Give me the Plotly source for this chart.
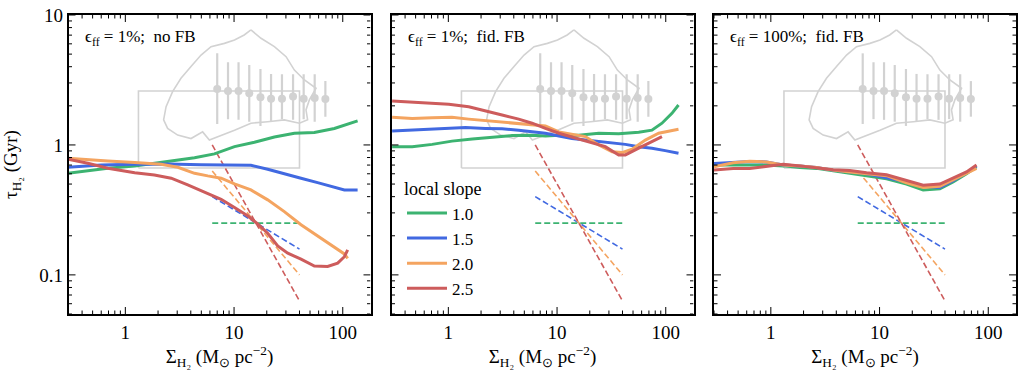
import math
import plotly.graph_objects as go

# ---------------- data ----------------
slopes = ["1.0", "1.5", "2.0", "2.5"]
colors = ["#3cb371", "#4169e1", "#f4a460", "#cd5c5c"]
panel_labels = ["ϵ<sub>ff</sub> = 1%;  no FB", "ϵ<sub>ff</sub> = 1%;  fid. FB", "ϵ<sub>ff</sub> = 100%;  fid. FB"]

# panel 1 (eff = 1%, no FB)
p1_green_x = [0.296, 0.452, 0.69, 1.22, 1.85, 2.83, 4.33, 6.6, 10.1, 15.4, 23.5, 35.9, 54.8, 83.7, 137]
p1_green_y = [0.605, 0.63, 0.662, 0.689, 0.723, 0.757, 0.798, 0.853, 0.97, 1.05, 1.15, 1.23, 1.245, 1.34, 1.53]
p1_blue_x = [0.296, 0.6, 1.22, 2.46, 4.98, 10.1, 14.3, 20.4, 29.0, 41.3, 58.7, 83.7, 103.5, 137]
p1_blue_y = [0.673, 0.702, 0.71, 0.714, 0.705, 0.702, 0.698, 0.65, 0.598, 0.554, 0.513, 0.472, 0.451, 0.451]
p1_orange_x = [0.296, 0.452, 0.69, 1.22, 2.13, 3.04, 4.33, 5.73, 7.6, 10.1, 14.3, 20.4, 29.0, 41.3, 58.7, 83.7, 103.5, 111]
p1_orange_y = [0.79, 0.767, 0.753, 0.731, 0.711, 0.673, 0.605, 0.578, 0.555, 0.501, 0.451, 0.378, 0.307, 0.243, 0.2, 0.165, 0.145, 0.134]
p1_red_x = [0.296, 0.452, 0.69, 1.22, 1.85, 2.64, 3.75, 5.73, 7.6, 10.1, 13.4, 16.5, 20.4, 25.2, 31.2, 41.3, 54.8, 72.6, 89.8, 103.5, 111]
p1_red_y = [0.776, 0.723, 0.662, 0.612, 0.588, 0.555, 0.492, 0.425, 0.382, 0.33, 0.284, 0.247, 0.209, 0.167, 0.147, 0.132, 0.117, 0.116, 0.123, 0.138, 0.156]

# panel 2 (eff = 1%, fid. FB)
p2_green_x = [0.304, 0.465, 0.71, 1.08, 1.66, 2.53, 3.86, 5.89, 7.82, 10.4, 15.8, 24.2, 36.9, 56.4, 74.6, 92.3, 114, 131]
p2_green_y = [0.97, 0.97, 1.01, 1.07, 1.11, 1.15, 1.18, 1.19, 1.17, 1.19, 1.19, 1.23, 1.22, 1.25, 1.30, 1.47, 1.75, 2.03]
p2_blue_x = [0.304, 0.465, 0.71, 1.08, 1.44, 2.19, 3.12, 4.44, 5.89, 7.82, 10.4, 13.7, 18.2, 24.2, 32.1, 42.5, 56.4, 74.6, 98.9, 131]
p2_blue_y = [1.28, 1.30, 1.32, 1.33, 1.36, 1.34, 1.33, 1.30, 1.26, 1.23, 1.17, 1.12, 1.09, 1.06, 1.04, 1.01, 0.97, 0.944, 0.904, 0.863]
p2_orange_x = [0.304, 0.465, 0.71, 1.08, 1.54, 2.19, 3.12, 4.44, 5.89, 7.82, 10.4, 13.7, 18.2, 24.2, 32.1, 39.6, 49.0, 64.9, 86.1, 131]
p2_orange_y = [1.63, 1.60, 1.62, 1.63, 1.58, 1.54, 1.50, 1.47, 1.44, 1.40, 1.26, 1.21, 1.16, 1.0, 0.887, 0.873, 0.927, 1.09, 1.23, 1.32]
p2_red_x = [0.304, 0.465, 0.71, 1.01, 1.54, 2.19, 3.12, 4.44, 5.89, 7.82, 10.4, 14.7, 21.0, 27.8, 36.9, 42.5, 56.4, 74.6, 92.3]
p2_red_y = [2.18, 2.14, 2.09, 2.06, 1.97, 1.84, 1.70, 1.58, 1.47, 1.34, 1.23, 1.13, 1.04, 0.97, 0.838, 0.838, 0.944, 1.06, 1.16]

# panel 3 (eff = 100%, fid. FB)
p3_x = [0.3, 0.45, 0.64, 0.91, 1.3, 1.85, 2.63, 3.74, 5.33, 7.59, 11.6, 17.7, 25.2, 35.9, 47.5, 63.1, 78]
p3_green_y = [0.70, 0.70, 0.70, 0.70, 0.69, 0.67, 0.66, 0.63, 0.60, 0.58, 0.55, 0.50, 0.45, 0.46, 0.52, 0.60, 0.68]
p3_blue_y = [0.72, 0.735, 0.745, 0.74, 0.70, 0.69, 0.67, 0.64, 0.62, 0.60, 0.56, 0.52, 0.48, 0.47, 0.53, 0.61, 0.69]
p3_orange_y = [0.68, 0.73, 0.75, 0.74, 0.70, 0.69, 0.67, 0.64, 0.62, 0.60, 0.58, 0.51, 0.47, 0.48, 0.54, 0.60, 0.66]
p3_red_y = [0.64, 0.66, 0.66, 0.68, 0.71, 0.69, 0.67, 0.645, 0.635, 0.61, 0.59, 0.53, 0.49, 0.50, 0.56, 0.62, 0.70]

# reference local-slope lines (endpoints)
ref_x = [6.3, 40]
ref_y_10 = [0.25, 0.25]
ref_y_15 = [0.40, 0.158]
ref_y_20 = [0.63, 0.10]
ref_y_25 = [1.0, 0.063]

# observational comparison (grey)
obs_box_x = [1.32, 40]
obs_box_y = [0.665, 2.6]
obs_pts_x = [7.0, 8.8, 11.0, 13.8, 17.5, 21.9, 27.6, 34.9, 43.7, 55.2, 69.2]
obs_pts_y = [2.70, 2.60, 2.60, 2.50, 2.33, 2.27, 2.27, 2.36, 2.27, 2.30, 2.26]
obs_pts_hi = [5.07, 4.33, 4.33, 4.12, 3.84, 3.52, 3.50, 3.50, 3.50, 3.50, 3.10]
obs_pts_lo = [1.45, 1.58, 1.56, 1.51, 1.40, 1.51, 1.58, 1.56, 1.58, 1.51, 1.65]
obs_contour_x = [14.3, 17.7, 23.5, 30.1, 35.9, 44.4, 56.8, 49.3, 45.9, 47.5, 39.9, 29.0, 20.4, 14.3, 10.1,
                 7.07, 5.93, 5.14, 4.02, 3.03, 2.45, 2.25, 2.37, 2.72, 3.25, 4.02, 4.97, 6.14, 8.15, 10.1, 12.4, 14.3]
obs_contour_y = [7.67, 6.62, 5.71, 4.78, 3.77, 3.16, 2.73, 2.22, 1.86, 1.56, 1.47, 1.56, 1.51, 1.47, 1.30,
                 1.16, 1.09, 1.26, 1.12, 1.19, 1.34, 1.56, 1.97, 2.57, 3.26, 4.01, 4.92, 5.71, 6.05, 6.43, 7.02, 7.67]

x_major = [1, 10, 100]
x_major_text = ["1", "10", "100"]
y_major = [0.1, 1, 10]
y_major_text = ["0.1", "1", "10"]
minor_mult = [2, 3, 4, 5, 6, 7, 8, 9]
x_range = [0.3, 180]
y_range = [0.05, 10]

panels = [
    [(p1_green_x, p1_green_y), (p1_blue_x, p1_blue_y), (p1_orange_x, p1_orange_y), (p1_red_x, p1_red_y)],
    [(p2_green_x, p2_green_y), (p2_blue_x, p2_blue_y), (p2_orange_x, p2_orange_y), (p2_red_x, p2_red_y)],
    [(p3_x, p3_green_y), (p3_x, p3_blue_y), (p3_x, p3_orange_y), (p3_x, p3_red_y)],
]
ref_lines = [ref_y_10, ref_y_15, ref_y_20, ref_y_25]

# ---------------- figure ----------------
W, H = 1024, 372
FONT = "Liberation Serif"
GREY = "#d2d2d2"
x_px = [(68.5, 370.5), (391.5, 693.5), (714, 1016)]
y_px = (15, 314)
MAJOR_LEN, MINOR_LEN = 7, 3.5

fig = go.Figure()

for i in range(3):
    xa = "x" if i == 0 else f"x{i+1}"
    ya = "y" if i == 0 else f"y{i+1}"
    fig.add_trace(go.Scatter(x=obs_contour_x, y=obs_contour_y, mode="lines",
                             line=dict(color=GREY, width=1.6), xaxis=xa, yaxis=ya,
                             showlegend=False, hoverinfo="skip"))
    bx = [obs_box_x[0], obs_box_x[1], obs_box_x[1], obs_box_x[0], obs_box_x[0]]
    by = [obs_box_y[0], obs_box_y[0], obs_box_y[1], obs_box_y[1], obs_box_y[0]]
    fig.add_trace(go.Scatter(x=bx, y=by, mode="lines", line=dict(color=GREY, width=1.6),
                             xaxis=xa, yaxis=ya, showlegend=False, hoverinfo="skip"))
    fig.add_trace(go.Scatter(
        x=obs_pts_x, y=obs_pts_y, mode="markers",
        marker=dict(color=GREY, size=8),
        error_y=dict(type="data", symmetric=False,
                     array=[h - c for h, c in zip(obs_pts_hi, obs_pts_y)],
                     arrayminus=[c - l for c, l in zip(obs_pts_y, obs_pts_lo)],
                     color=GREY, thickness=2.2, width=0),
        xaxis=xa, yaxis=ya, showlegend=False, hoverinfo="skip"))
    for ry, col in zip(ref_lines, colors):
        fig.add_trace(go.Scatter(x=ref_x, y=ry, mode="lines",
                                 line=dict(color=col, width=1.6, dash="6px,3px"),
                                 xaxis=xa, yaxis=ya, showlegend=False, hoverinfo="skip"))
    for (cx, cy), col, lab in zip(panels[i], colors, slopes):
        fig.add_trace(go.Scatter(x=cx, y=cy, mode="lines", name=lab,
                                 line=dict(color=col, width=3),
                                 xaxis=xa, yaxis=ya, showlegend=(i == 0)))

xr = [math.log10(x_range[0]), math.log10(x_range[1])]
yr = [math.log10(y_range[0]), math.log10(y_range[1])]


def tick_list(major, rng):
    lo, hi = rng
    out = [(v, True) for v in major if lo - 1e-9 <= math.log10(v) <= hi + 1e-9]
    for d in [major[0] / 10] + list(major):
        for m in minor_mult:
            v = d * m
            if lo <= math.log10(v) <= hi:
                out.append((v, False))
    return out


x_ticks = tick_list(x_major, xr)
y_ticks = tick_list(y_major, yr)

layout = {}
shapes = []
for i in range(3):
    xd = [x_px[i][0] / W, x_px[i][1] / W]
    yd = [1 - y_px[1] / H, 1 - y_px[0] / H]
    xn = "x" if i == 0 else f"x{i+1}"
    yn = "y" if i == 0 else f"y{i+1}"
    xaxis = dict(type="log", domain=xd, anchor=yn, range=xr, ticks="",
                 showline=True, linecolor="black", linewidth=1.5, mirror=True,
                 showgrid=False, zeroline=False, automargin=False,
                 tickmode="array", tickvals=x_major, ticktext=x_major_text,
                 tickfont=dict(family=FONT, size=19, color="black"),
                 title=dict(text="Σ<sub>H₂</sub> (M<sub>⊙</sub> pc<sup>−2</sup>)",
                            font=dict(family=FONT, size=19, color="black"), standoff=4))
    yaxis = dict(type="log", domain=yd, anchor=xn, range=yr, ticks="",
                 showline=True, linecolor="black", linewidth=1.5, mirror=True,
                 showgrid=False, zeroline=False, automargin=False,
                 tickmode="array", tickvals=y_major, ticktext=y_major_text,
                 showticklabels=(i == 0),
                 tickfont=dict(family=FONT, size=19, color="black"))
    if i == 0:
        yaxis["title"] = dict(text="τ<sub>H₂</sub> (Gyr)",
                              font=dict(family=FONT, size=19, color="black"), standoff=20)
    layout["xaxis" if i == 0 else f"xaxis{i+1}"] = xaxis
    layout["yaxis" if i == 0 else f"yaxis{i+1}"] = yaxis

    # inward ticks on all four sides (shape coordinates are data values on log axes)
    x_per_px = (xr[1] - xr[0]) / (x_px[i][1] - x_px[i][0])
    y_per_px = (yr[1] - yr[0]) / (y_px[1] - y_px[0])
    for v, major in x_ticks:
        f = 10 ** ((MAJOR_LEN if major else MINOR_LEN) * y_per_px)
        for base, mult in ((y_range[0], f), (y_range[1], 1 / f)):
            shapes.append(dict(type="line", xref=xn, yref=yn, x0=v, x1=v,
                               y0=base, y1=base * mult,
                               line=dict(color="black", width=1), layer="above"))
    for v, major in y_ticks:
        f = 10 ** ((MAJOR_LEN if major else MINOR_LEN) * x_per_px)
        for base, mult in ((x_range[0], f), (x_range[1], 1 / f)):
            shapes.append(dict(type="line", xref=xn, yref=yn, y0=v, y1=v,
                               x0=base, x1=base * mult,
                               line=dict(color="black", width=1), layer="above"))

fig.update_layout(**layout)

annotations = []
for i, txt in enumerate(panel_labels):
    annotations.append(dict(text=txt, x=(x_px[i][0] + 14) / W, y=1 - 38 / H,
                            xref="paper", yref="paper", xanchor="left", yanchor="middle",
                            showarrow=False, font=dict(family=FONT, size=17, color="black")))

fig.update_layout(
    width=W, height=H, margin=dict(l=0, r=0, t=0, b=0, autoexpand=False),
    paper_bgcolor="white", plot_bgcolor="white",
    annotations=annotations, shapes=shapes,
    showlegend=True,
    legend=dict(x=402 / W, y=1 - 172 / H, xanchor="left", yanchor="top",
                bgcolor="rgba(0,0,0,0)", font=dict(family=FONT, size=17, color="black"),
                title=dict(text="local slope", font=dict(family=FONT, size=18, color="black")),
                tracegroupgap=0, itemwidth=40),
)

fig.write_html("out.html", config={"displayModeBar": False},
               post_script="document.body.style.margin='0';document.body.style.overflow='hidden';")
